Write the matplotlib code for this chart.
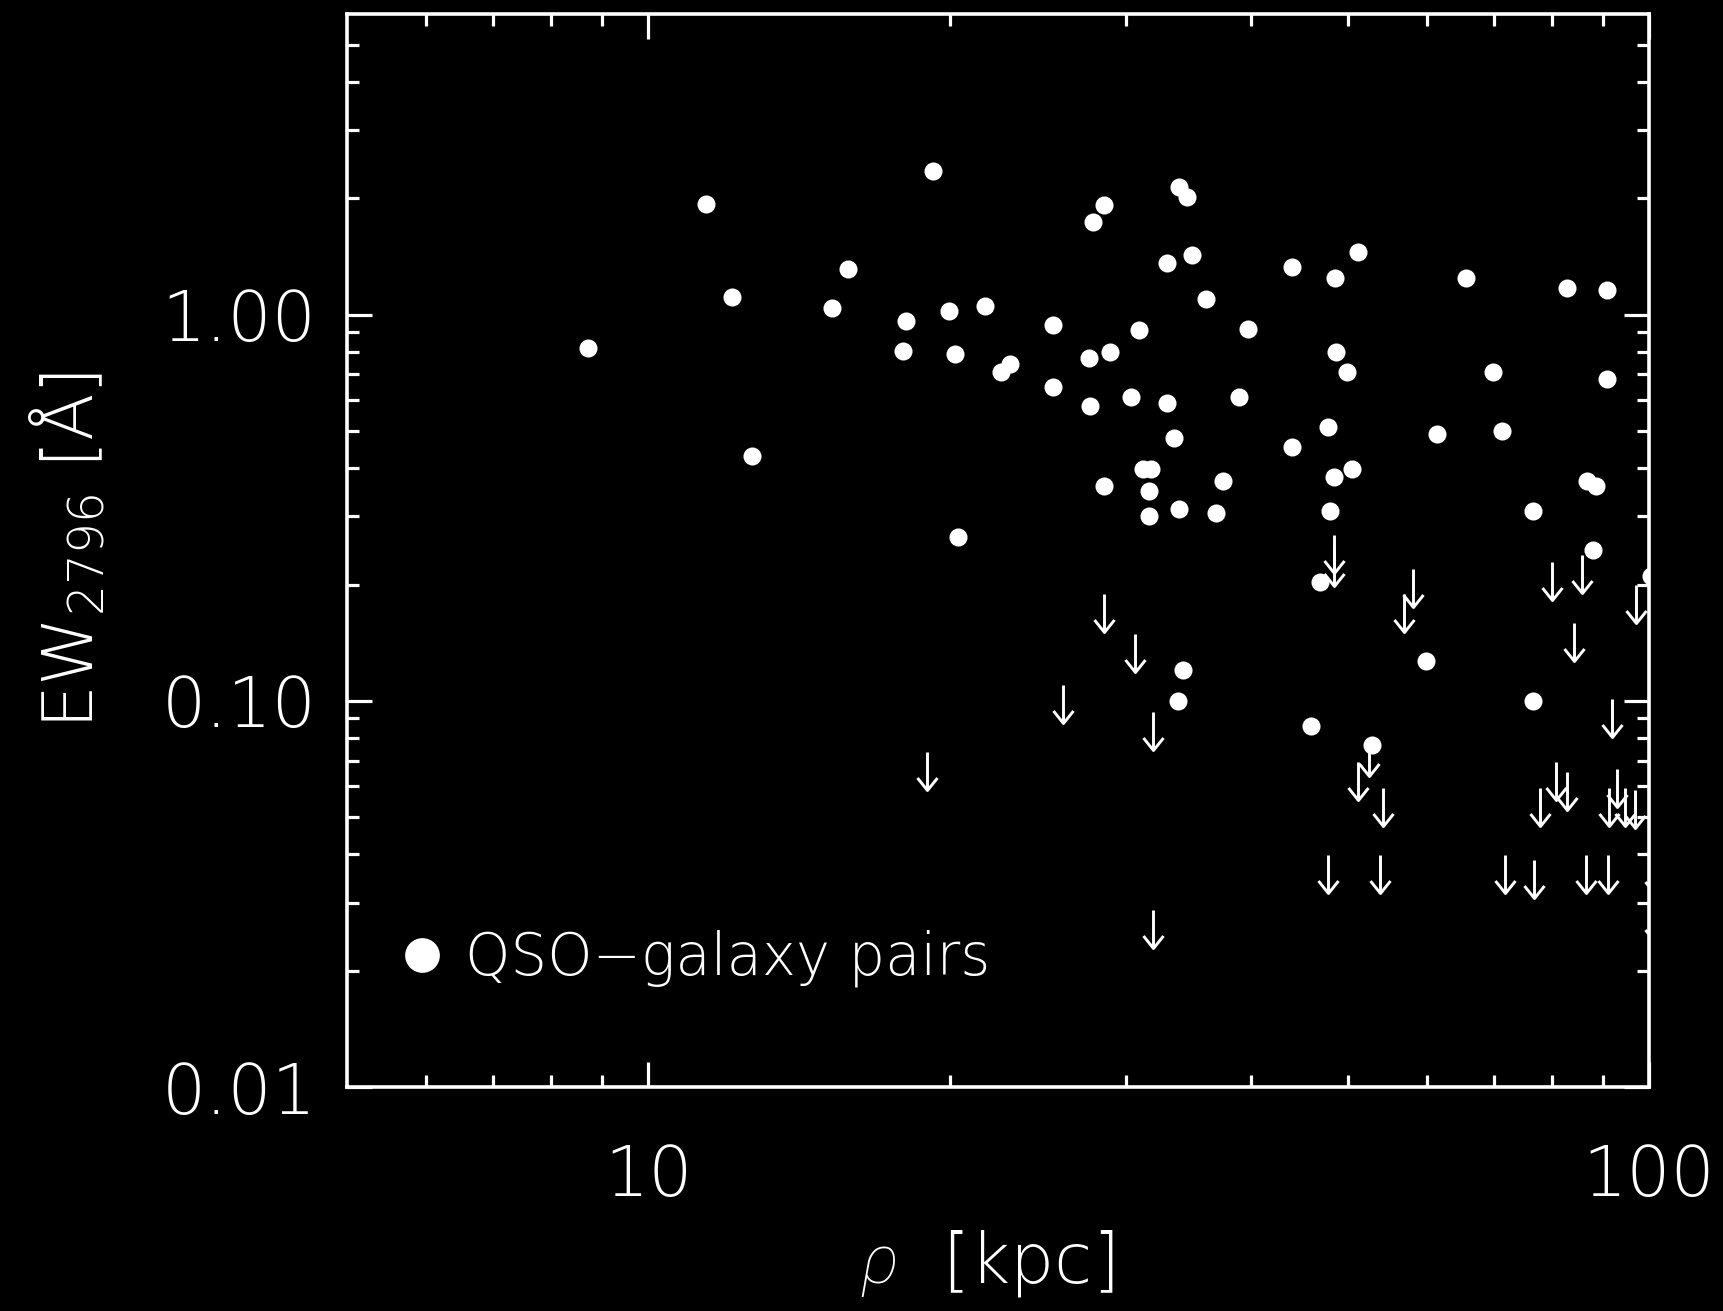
import matplotlib
matplotlib.use("Agg")
import matplotlib.pyplot as plt
from matplotlib.lines import Line2D
from matplotlib.path import Path
from matplotlib.ticker import FixedLocator, FuncFormatter, NullFormatter

# Impact parameter (kpc) and Mg II 2796 equivalent width (Angstrom) of detections
rho_det = [8.70, 11.42, 12.13, 12.70, 15.27, 15.83, 19.26, 17.98, 18.11, 19.96,
           20.25, 20.40, 21.68, 22.54, 22.96, 25.37, 25.37, 27.54, 27.80, 28.53,
           27.66, 28.53, 28.94, 30.37, 30.93, 31.25, 31.78, 31.68, 31.68, 33.92,
           34.52, 32.95, 34.95, 36.07, 32.95, 33.54, 33.95, 36.93, 37.50, 38.94,
           39.78, 34.24, 33.82, 43.93, 43.93, 47.78, 48.60, 48.63, 49.88, 51.20,
           50.50, 48.49, 48.04, 46.95, 45.92, 52.90, 59.91, 61.44, 65.60, 69.85,
           71.32, 76.59, 76.59, 82.80, 86.76, 88.44, 87.93, 90.81, 90.81, 100.4]
ew_det = [0.820, 1.93, 1.11, 0.430, 1.04, 1.31, 2.36, 0.805, 0.961, 1.02,
          0.790, 0.266, 1.05, 0.711, 0.746, 0.941, 0.650, 0.770, 1.74, 1.92,
          0.579, 0.360, 0.799, 0.610, 0.910, 0.399, 0.399, 0.350, 0.301, 2.14,
          2.02, 1.36, 1.43, 1.10, 0.590, 0.480, 0.313, 0.307, 0.370, 0.611,
          0.919, 0.120, 0.0997, 1.33, 0.454, 0.510, 1.24, 0.799, 0.710, 1.45,
          0.399, 0.380, 0.310, 0.203, 0.0859, 0.0767, 0.127, 0.490, 1.24, 0.710,
          0.500, 0.310, 0.0997, 1.17, 0.370, 0.359, 0.245, 1.16, 0.679, 0.210]

# Non-detections: upper limits on EW
rho_lim = [19.00, 25.97, 28.54, 30.65, 31.96, 31.96, 48.45, 48.45, 58.15, 56.92,
           79.93, 85.79, 97.05, 84.16, 91.78, 52.47, 51.22, 54.18, 77.81, 80.82,
           82.80, 92.84, 91.27, 94.62, 96.83, 47.82, 53.87, 71.73, 76.80, 86.51,
           90.93, 101.3, 101.3]
ew_lim = [0.0736, 0.110, 0.189, 0.149, 0.0935, 0.0288, 0.269, 0.249, 0.219, 0.189,
          0.229, 0.238, 0.199, 0.159, 0.101, 0.0802, 0.0694, 0.0596, 0.0596, 0.0694,
          0.0654, 0.0666, 0.0596, 0.0596, 0.0586, 0.0398, 0.0398, 0.0398, 0.0388, 0.0398,
          0.0398, 0.0396, 0.0297]

x_major = [10, 100]
x_minor = [6, 7, 8, 9, 20, 30, 40, 50, 60, 70, 80, 90]
y_major = [0.01, 0.1, 1.0]
y_minor = [0.02, 0.03, 0.04, 0.05, 0.06, 0.07, 0.08, 0.09,
           0.2, 0.3, 0.4, 0.5, 0.6, 0.7, 0.8, 0.9, 2, 3, 4, 5]

legend_label = "QSO\u2212galaxy pairs"

plt.rcParams["font.family"] = ["DejaVu Sans"]
plt.rcParams["mathtext.fontset"] = "custom"
plt.rcParams["mathtext.rm"] = "DejaVu Sans:light"
plt.rcParams["mathtext.it"] = "Roboto:italic:light"
plt.rcParams["mathtext.bf"] = "DejaVu Sans:bold"
plt.rcParams["mathtext.default"] = "regular"

FG = "white"
BG = "black"

fig = plt.figure(figsize=(17.24, 13.11), dpi=100, facecolor=BG)
ax = fig.add_axes([0.20128, 0.17086, 0.75522, 0.81846], facecolor=BG)

ax.set_xscale("log")
ax.set_yscale("log")
ax.set_xlim(5, 100)
ax.set_ylim(0.01, 6.0)

# detections
ax.plot(rho_det, ew_det, ls="none", marker="o", ms=13, mfc=FG, mec=FG, mew=0, zorder=3)

# upper-limit arrow marker: tail at the data value, open head pointing down
arrow_path = Path(
    [(0, 0), (0, -38), (-10, -25.5), (0, -38), (10, -25.5)],
    [Path.MOVETO, Path.LINETO, Path.MOVETO, Path.LINETO, Path.LINETO],
)
ax.plot(rho_lim, ew_lim, ls="none", marker=arrow_path, ms=54.7,
        mfc="none", mec=FG, mew=2.1, zorder=3)

# axes styling
for sp in ax.spines.values():
    sp.set_color(FG)
    sp.set_linewidth(2.6)

ax.xaxis.set_major_locator(FixedLocator(x_major))
ax.xaxis.set_minor_locator(FixedLocator(x_minor))
ax.yaxis.set_major_locator(FixedLocator(y_major))
ax.yaxis.set_minor_locator(FixedLocator(y_minor))
ax.xaxis.set_major_formatter(FuncFormatter(lambda v, p: f"{v:g}"))
ax.xaxis.set_minor_formatter(NullFormatter())
ax.yaxis.set_major_formatter(FuncFormatter(lambda v, p: f"{v:.2f}"))
ax.yaxis.set_minor_formatter(NullFormatter())

ax.tick_params(which="both", direction="in", top=True, right=True, colors=FG)
ax.tick_params(which="major", length=18, width=2.3)
ax.tick_params(which="minor", length=8.6, width=2.3)
ax.tick_params(axis="x", which="major", pad=40, labelsize=50)
ax.tick_params(axis="y", which="major", pad=22, labelsize=50)
for lab in ax.get_xticklabels() + ax.get_yticklabels():
    lab.set_fontweight("light")
    lab.set_color(FG)

ax.set_xlabel(r"$\it{\rho}$  [kpc]", fontsize=50, color=FG, fontweight="light")
ax.set_ylabel(r"EW$_{2796}$ [Å]", fontsize=50, color=FG, fontweight="light")
ax.xaxis.set_label_coords(0.4916, -0.1314)
ax.yaxis.set_label_coords(-0.1836, 0.5)

handle = Line2D([], [], ls="none", marker="o", ms=25, mfc=FG, mec=FG, mew=0)
leg = ax.legend([handle], [legend_label], loc="center left",
                bbox_to_anchor=(0.044, 0.1198), frameon=False,
                borderaxespad=0, borderpad=0, handlelength=0.6,
                handletextpad=0.45, prop={"size": 41.5, "weight": "light"})
for t in leg.get_texts():
    t.set_color(FG)

fig.savefig("out.png", dpi=100, facecolor=BG)
